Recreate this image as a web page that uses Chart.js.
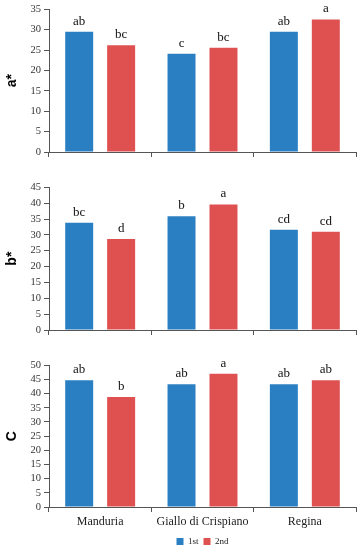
<!DOCTYPE html>
<html lang="en">
<head>
    <meta charset="UTF-8">
    <title>Colour parameters</title>
    <script src="https://cdn.jsdelivr.net/npm/chart.js"></script>
    <style>
        body { margin: 0; background: #fff; overflow: hidden; }
        #wrap { position: relative; width: 359px; height: 550px; overflow: hidden; }
        canvas { position: absolute; left: 0; }
    </style>
</head>
<body>
<div id="wrap">
    <canvas id="chartA" width="359" height="170" style="top:0px"></canvas>
    <canvas id="chartB" width="359" height="170" style="top:178px"></canvas>
    <canvas id="chartC" width="359" height="200" style="top:356px"></canvas>
</div>

<script>
    // categories and legend
    const categories = ['Manduria', 'Giallo di Crispiano', 'Regina'];
    const seriesNames = ['1st', '2nd'];

    // a*
    const aStar1st = [29.5, 24.1, 29.5];
    const aStar2nd = [26.2, 25.6, 32.5];
    const aStarLetters1st = ['ab', 'c', 'ab'];
    const aStarLetters2nd = ['bc', 'bc', 'a'];

    // b*
    const bStar1st = [33.8, 35.9, 31.6];
    const bStar2nd = [28.7, 39.6, 31.0];
    const bStarLetters1st = ['bc', 'b', 'cd'];
    const bStarLetters2nd = ['d', 'a', 'cd'];

    // C (chroma)
    const chroma1st = [44.7, 43.3, 43.3];
    const chroma2nd = [38.8, 47.0, 44.7];
    const chromaLetters1st = ['ab', 'ab', 'ab'];
    const chromaLetters2nd = ['b', 'a', 'ab'];

    const blue = '#2a7fc3';
    const red = '#df5050';
    const axisColor = '#555';
    const serif = "'Liberation Serif', 'DejaVu Serif', serif";

    // lettres de significativite au-dessus des barres
    const lettersPlugin = {
        id: 'letters',
        afterDatasetsDraw(chart) {
            const ctx = chart.ctx;
            ctx.save();
            ctx.font = '13px ' + serif;
            ctx.fillStyle = '#111';
            ctx.textAlign = 'center';
            ctx.textBaseline = 'alphabetic';
            chart.data.datasets.forEach((ds, i) => {
                chart.getDatasetMeta(i).data.forEach((bar, j) => {
                    ctx.fillText(ds.letters[j], bar.x, bar.y - 7);
                });
            });
            ctx.restore();
        }
    };

    function makeChart(id, title, v1, v2, l1, l2, yMax, bottom) {
        const ctx = document.getElementById(id).getContext('2d');
        return new Chart(ctx, {
            type: 'bar',
            data: {
                labels: categories,
                datasets: [
                    { label: seriesNames[0], data: v1, letters: l1, backgroundColor: blue },
                    { label: seriesNames[1], data: v2, letters: l2, backgroundColor: red }
                ]
            },
            options: {
                responsive: false,
                animation: false,
                devicePixelRatio: 1,
                categoryPercentage: 0.82,
                barPercentage: 0.667,
                layout: { padding: { top: 7, right: 3, left: 0, bottom: 0 } },
                plugins: {
                    tooltip: { enabled: false },
                    legend: {
                        display: bottom,
                        position: 'bottom',
                        fullSize: false,
                        labels: {
                            boxWidth: 7,
                            boxHeight: 7,
                            padding: 5,
                            color: '#222',
                            font: { size: 9, family: serif }
                        }
                    }
                },
                scales: {
                    x: {
                        grid: { drawOnChartArea: false, drawTicks: true, tickLength: 5, color: axisColor, offset: true },
                        border: { color: axisColor, width: 1 },
                        ticks: {
                            display: bottom,
                            color: '#222',
                            padding: 3,
                            maxRotation: 0,
                            font: { size: 12, family: serif }
                        },
                        afterFit: s => { s.height = bottom ? 25 : 18; }
                    },
                    y: {
                        min: 0,
                        max: yMax,
                        grid: { drawOnChartArea: false, drawTicks: true, tickLength: 5, color: axisColor },
                        border: { color: axisColor, width: 1 },
                        ticks: {
                            stepSize: 5,
                            autoSkip: false,
                            color: '#333',
                            padding: 3,
                            font: { size: 10.5, family: serif }
                        },
                        title: {
                            display: true,
                            text: title,
                            color: '#000',
                            padding: { top: 4, bottom: 0 },
                            font: { size: 14, weight: 'bold', family: "'Liberation Sans', Arial, sans-serif" }
                        },
                        afterFit: s => { s.width = 49; }
                    }
                }
            },
            plugins: [lettersPlugin]
        });
    }

    makeChart('chartA', 'a*', aStar1st, aStar2nd, aStarLetters1st, aStarLetters2nd, 35, false);
    makeChart('chartB', 'b*', bStar1st, bStar2nd, bStarLetters1st, bStarLetters2nd, 45, false);
    makeChart('chartC', 'C', chroma1st, chroma2nd, chromaLetters1st, chromaLetters2nd, 50, true);
</script>
</body>
</html>
